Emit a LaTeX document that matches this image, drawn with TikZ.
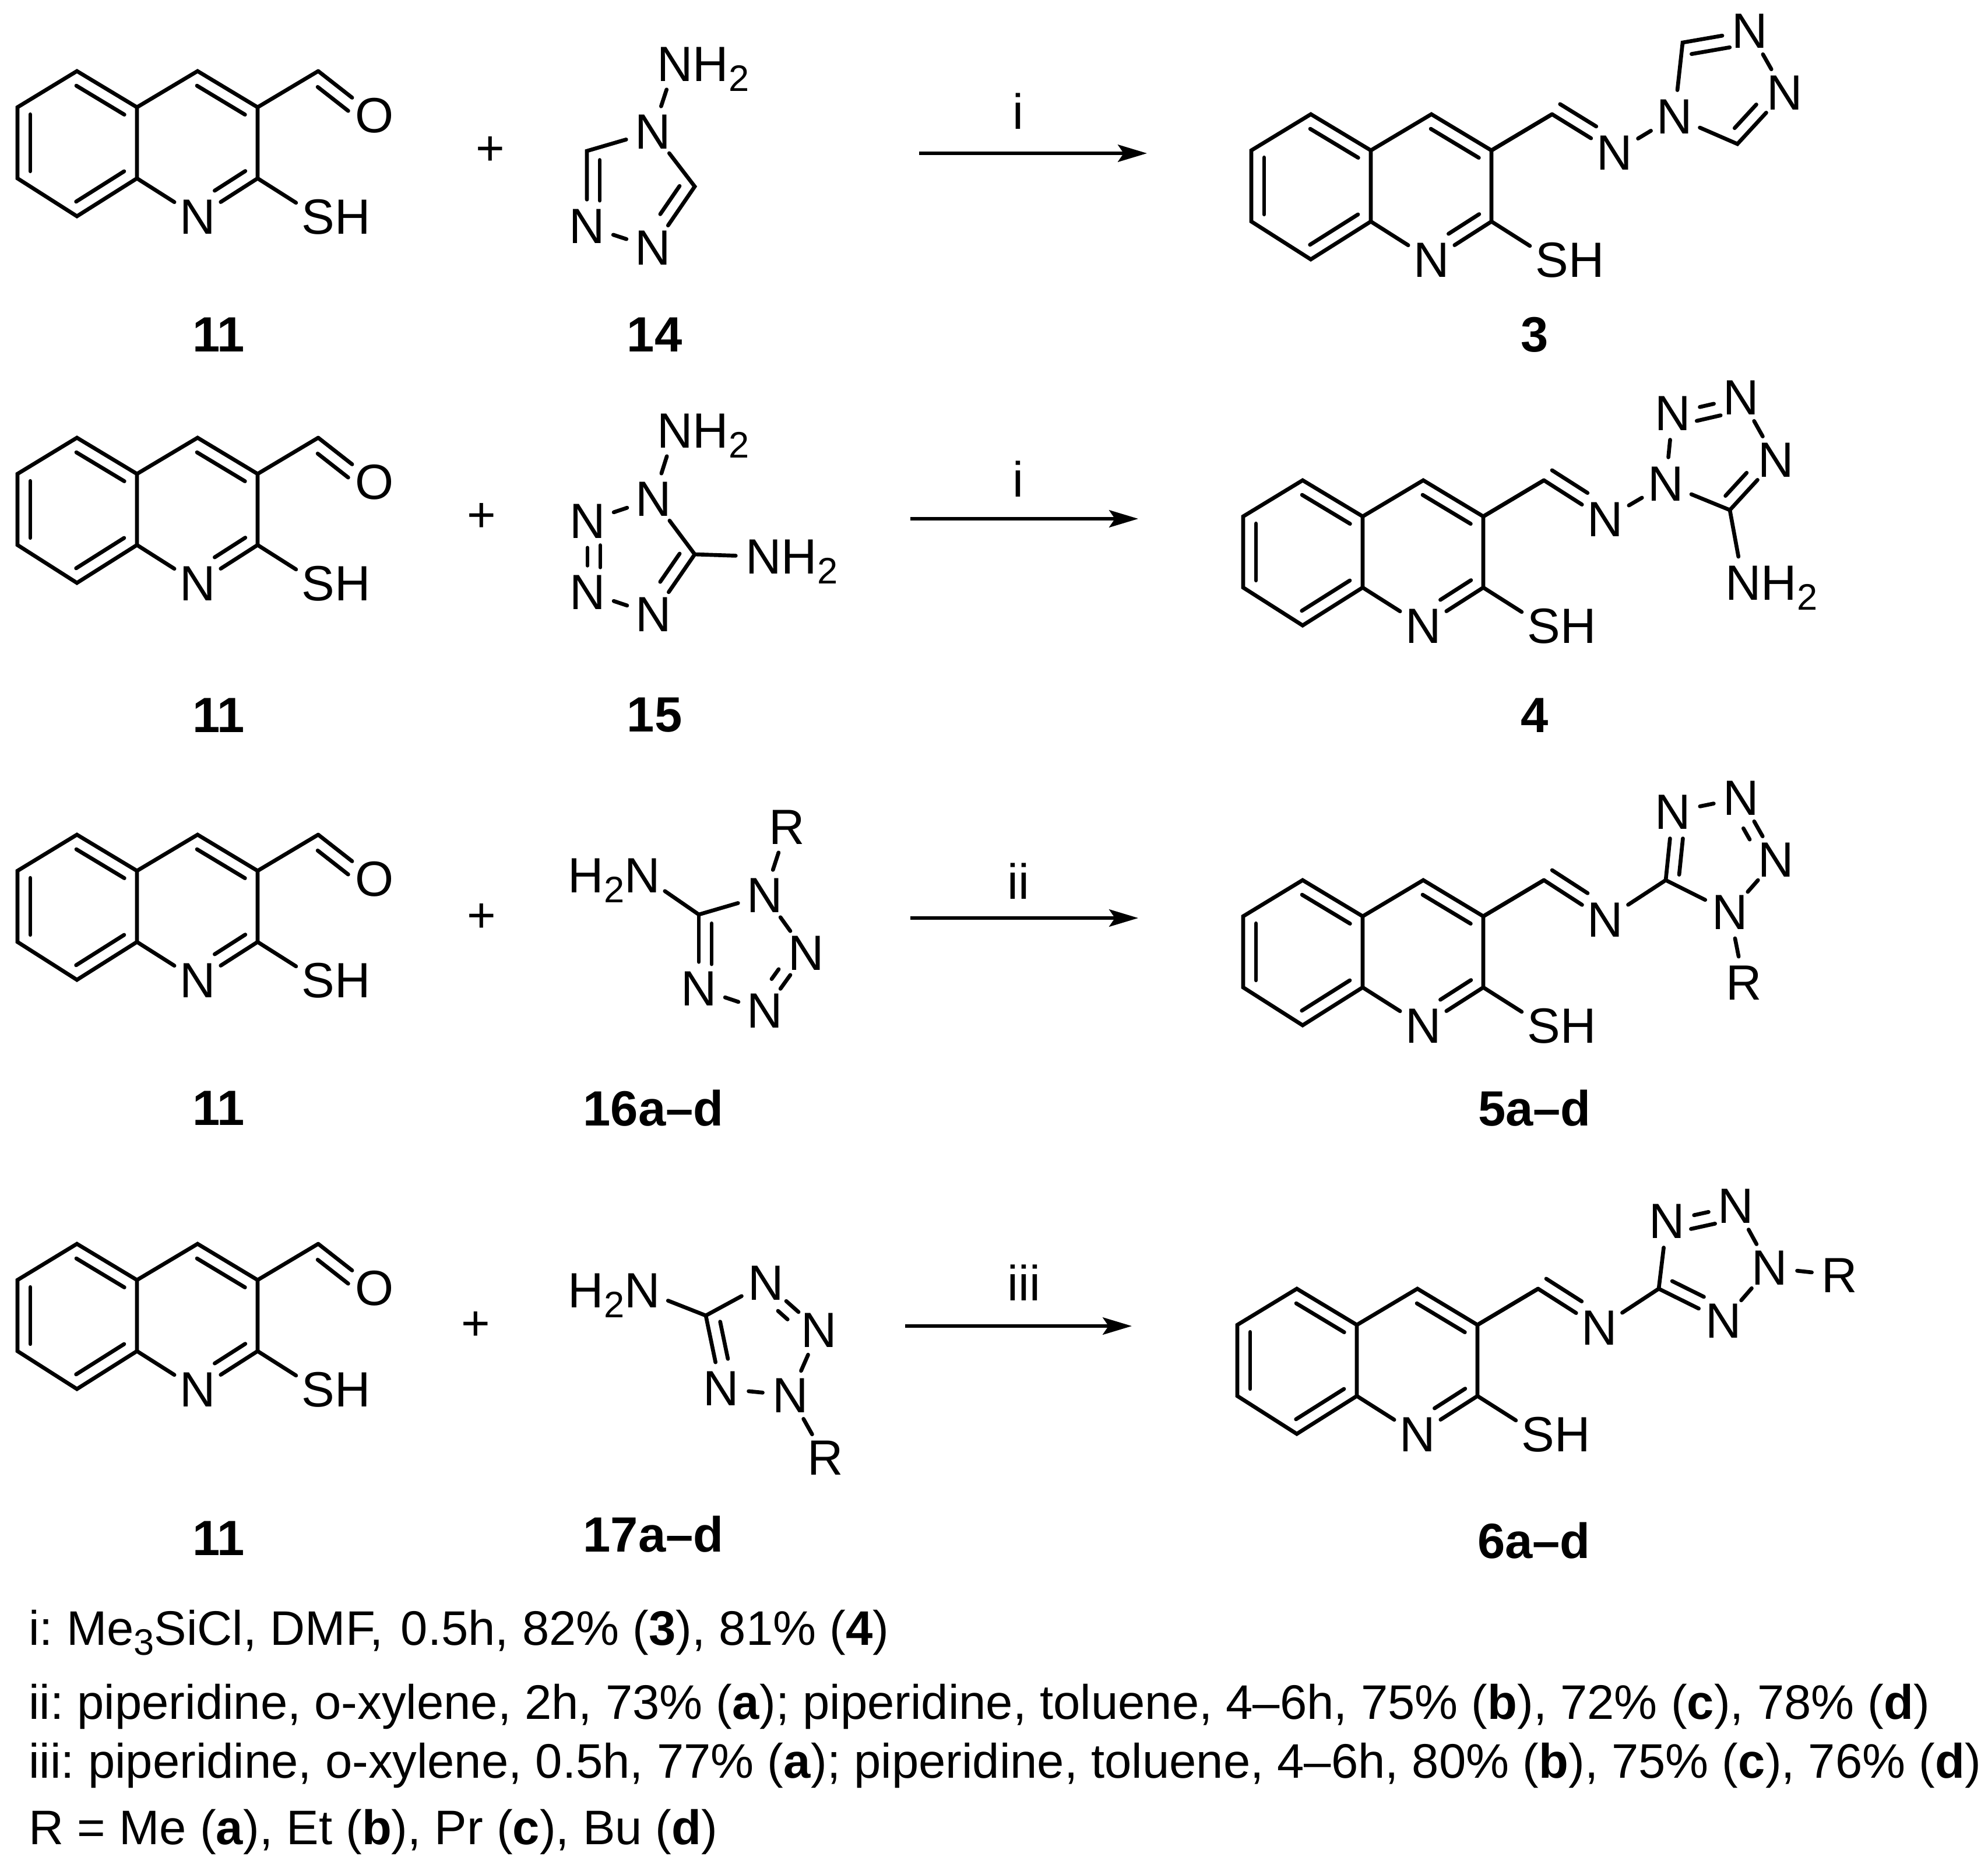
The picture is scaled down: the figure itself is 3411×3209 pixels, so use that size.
\documentclass[tikz,border=0pt]{standalone}
\usepackage{fontspec}
\setmainfont{Liberation Sans}
\usetikzlibrary{calc,arrows.meta,shapes.geometric}
\newcommand{\subtwo}[1]{\smash{\raisebox{-2.5pt}{\fontsize{9}{9}\selectfont #1}}}
\newcommand{\innerbond}[5]{\draw [bond] ($(#1)!#4!(#2)!0.11cm!#3:(#2)$) -- ($(#1)!#5!(#2)!0.11cm!#3:(#2)$) ;}
\frenchspacing
\begin{document}
\begin{tikzpicture}[x=0.005cm,y=-0.005cm,
        bond/.style={line width=0.95pt,line cap=round},
        atom/.style={ellipse,inner sep=0.3pt,font=\fontsize{12.1}{14}\selectfont},
        txt/.style={inner sep=0pt,font=\fontsize{12.1}{14}\selectfont},
        cpd/.style={inner sep=0pt,font=\fontsize{12.1}{14}\selectfont\bfseries},
        note/.style={inner sep=0pt,anchor=base west,font=\fontsize{11.85}{14}\selectfont},
        rxn/.style={line width=0.85pt,-{Stealth[length=7.1pt,width=4.2pt,inset=1.4pt]}}]
    \useasboundingbox (0,0) rectangle (3411,3209) ;
    \foreach \q/\ox/\oy in {r/30/184,s/30/813,t/30/1494,u/30/2196,v/2147/258,w/2133/886,x/2133/1572,y/2123/2273} {
        \begin{scope}[shift={(\ox,\oy)}]
            \coordinate (\q a) at (0,0) ;
            \coordinate (\q b) at (102,-62) ;
            \coordinate (\q c) at (205,0) ;
            \coordinate (\q d) at (205,122) ;
            \coordinate (\q e) at (102,187) ;
            \coordinate (\q f) at (0,122) ;
            \coordinate (\q g) at (309,-62) ;
            \coordinate (\q h) at (412,0) ;
            \coordinate (\q i) at (412,122) ;
            \coordinate (\q j) at (516,-62) ;
            \node [atom] (\q n) at (309,188) {N} ;
            \node [atom] (\q s) at (516,188) {S\rlap{H}} ;
            \draw [bond] (\q a) -- (\q b) -- (\q c) -- (\q d) -- (\q e) -- (\q f) -- cycle ;
            \draw [bond] (\q c) -- (\q g) -- (\q h) -- (\q i) -- (\q n) -- (\q d) ;
            \draw [bond] (\q h) -- (\q j) ;
            \draw [bond] (\q i) -- (\q s) ;
            \innerbond{\q a}{\q f}{90}{0.1}{0.9}
            \innerbond{\q b}{\q c}{-90}{0.1}{0.9}
            \innerbond{\q e}{\q d}{90}{0.1}{0.9}
            \innerbond{\q g}{\q h}{-90}{0.1}{0.9}
            \innerbond{\q i}{\q n}{-90}{0.09}{0.6}
        \end{scope}
    }
    \foreach \q/\ox/\oy in {r/30/184,s/30/813,t/30/1494,u/30/2196} {
        \node [atom] (\q o) at ($(\ox,\oy)+(613,14)$) {O} ;
        \draw [bond] (\q j) -- (\q o) ;
        \innerbond{\q j}{\q o}{-90}{0.13}{0.67}
    }

    \node [txt] (plusa) at (841,259) {+} ;
    \node [atom] (amA) at (1158,110) {N\rlap{H\subtwo{2}}} ;
    \node [atom] (nA) at (1120,226) {N} ;
    \coordinate (cA) at (1007,259) ;
    \node [atom] (nB) at (1007,388) {N} ;
    \node [atom] (nC) at (1120,425) {N} ;
    \coordinate (cB) at (1192,320) ;
    \draw [bond] (amA) -- (nA) ;
    \draw [bond] (nA) -- (cA) -- (nB) ;
    \draw [bond] (nB) -- (nC) ;
    \draw [bond] (nC) -- (cB) -- (nA) ;
    \innerbond{cA}{nB}{90}{0.12}{0.66}
    \innerbond{cB}{nC}{-90}{0.11}{0.57}

    \coordinate (arra) at (1577,263) ;
    \coordinate (arrb) at (1968,263) ;
    \draw [rxn] (arra) -- (arrb) ;
    \node [txt] (conda) at (1747,191) {i} ;

    \node [atom] (pan) at (2770,262) {N} ;
    \node [atom] (pbn) at (2873,200) {N} ;
    \coordinate (pca) at (2887,73) ;
    \node [atom] (pcn) at (3002,53) {N} ;
    \node [atom] (pdn) at (3062,159) {N} ;
    \coordinate (pcb) at (2981,247) ;
    \draw [bond] (vh) -- (vj) ;
    \draw [bond] (vj) -- (pan) ;
    \draw [bond] (pan) -- (pbn) ;
    \draw [bond] (pbn) -- (pca) -- (pcn) ;
    \draw [bond] (pcn) -- (pdn) ;
    \draw [bond] (pdn) -- (pcb) -- (pbn) ;
    \innerbond{vj}{pan}{90}{0.02}{0.6}
    \innerbond{pca}{pcn}{-90}{0.1}{0.67}
    \innerbond{pcb}{pdn}{90}{0.14}{0.6}

    \node [cpd] (cpda) at (375,574) {11} ;
    \node [cpd] (cpdb) at (1123,574) {14} ;
    \node [cpd] (cpdc) at (2633,574) {3} ;

    \node [txt] (plusb) at (826,888) {+} ;
    \node [atom] (amB) at (1158,739) {N\rlap{H\subtwo{2}}} ;
    \node [atom] (mA) at (1121,856) {N} ;
    \node [atom] (mB) at (1008,894) {N} ;
    \node [atom] (mC) at (1008,1016) {N} ;
    \node [atom] (mD) at (1121,1054) {N} ;
    \coordinate (mE) at (1192,951) ;
    \node [atom] (amC) at (1310,955) {N\rlap{H\subtwo{2}}} ;
    \draw [bond] (amB) -- (mA) ;
    \draw [bond] (mA) -- (mB) ;
    \draw [bond] (mB) -- (mC) ;
    \draw [bond] (mC) -- (mD) ;
    \draw [bond] (mD) -- (mE) -- (mA) ;
    \draw [bond] (mE) -- (amC) ;
    \innerbond{mB}{mC}{90}{0.34}{0.65}
    \innerbond{mE}{mD}{-90}{0.11}{0.58}

    \coordinate (arrc) at (1562,890) ;
    \coordinate (arrd) at (1953,890) ;
    \draw [rxn] (arrc) -- (arrd) ;
    \node [txt] (condb) at (1747,822) {i} ;

    \node [atom] (qan) at (2754,891) {N} ;
    \node [atom] (qbn) at (2858,830) {N} ;
    \node [atom] (qcn) at (2870,709) {N} ;
    \node [atom] (qdn) at (2987,682) {N} ;
    \node [atom] (qen) at (3047,789) {N} ;
    \coordinate (qc) at (2968,875) ;
    \node [atom] (amD) at (2991,1000) {N\rlap{H\subtwo{2}}} ;
    \draw [bond] (wh) -- (wj) ;
    \draw [bond] (wj) -- (qan) ;
    \draw [bond] (qan) -- (qbn) ;
    \draw [bond] (qbn) -- (qcn) ;
    \draw [bond] (qcn) -- (qdn) ;
    \draw [bond] (qdn) -- (qen) ;
    \draw [bond] (qen) -- (qc) -- (qbn) ;
    \draw [bond] (qc) -- (amD) ;
    \innerbond{wj}{qan}{90}{0.02}{0.6}
    \innerbond{qcn}{qdn}{-90}{0.31}{0.66}
    \innerbond{qc}{qen}{90}{0.11}{0.57}

    \node [cpd] (cpdd) at (375,1227) {11} ;
    \node [cpd] (cpde) at (1123,1227) {15} ;
    \node [cpd] (cpdf) at (2633,1227) {4} ;

    \node [txt] (plusc) at (826,1575) {+} ;
    \node [atom] (grR) at (1350,1419) {R} ;
    \node [atom] (amE) at (1102,1502) {\llap{H\subtwo{2}}N} ;
    \coordinate (kc) at (1199,1569) ;
    \node [atom] (kA) at (1312,1536) {N} ;
    \node [atom] (kB) at (1383,1635) {N} ;
    \node [atom] (kC) at (1312,1734) {N} ;
    \node [atom] (kD) at (1199,1696) {N} ;
    \draw [bond] (amE) -- (kc) -- (kA) ;
    \draw [bond] (kA) -- (grR) ;
    \draw [bond] (kA) -- (kB) ;
    \draw [bond] (kB) -- (kC) ;
    \draw [bond] (kC) -- (kD) ;
    \draw [bond] (kD) -- (kc) ;
    \innerbond{kB}{kC}{-90}{0.41}{0.58}
    \innerbond{kc}{kD}{90}{0.12}{0.67}

    \coordinate (arre) at (1562,1575) ;
    \coordinate (arrf) at (1953,1575) ;
    \draw [rxn] (arre) -- (arrf) ;
    \node [txt] (condc) at (1747,1512) {ii} ;

    \node [atom] (san) at (2754,1578) {N} ;
    \coordinate (sc) at (2858,1510) ;
    \node [atom] (sbn) at (2870,1393) {N} ;
    \node [atom] (scn) at (2987,1369) {N} ;
    \node [atom] (sdn) at (3047,1475) {N} ;
    \node [atom] (sen) at (2968,1565) {N} ;
    \node [atom] (grS) at (2992,1686) {R} ;
    \draw [bond] (xh) -- (xj) ;
    \draw [bond] (xj) -- (san) ;
    \draw [bond] (san) -- (sc) -- (sbn) ;
    \draw [bond] (sbn) -- (scn) ;
    \draw [bond] (scn) -- (sdn) ;
    \draw [bond] (sdn) -- (sen) ;
    \draw [bond] (sen) -- (sc) ;
    \draw [bond] (sen) -- (grS) ;
    \innerbond{xj}{san}{90}{0.02}{0.6}
    \innerbond{sc}{sbn}{-90}{0.1}{0.63}
    \innerbond{scn}{sdn}{-90}{0.39}{0.57}

    \node [cpd] (cpdg) at (375,1901) {11} ;
    \node [cpd] (cpdh) at (1121,1901) {16a--d} ;
    \node [cpd] (cpdi) at (2633,1901) {5a--d} ;

    \node [txt] (plusd) at (816,2275) {+} ;
    \node [atom] (amF) at (1102,2214) {\llap{H\subtwo{2}}N} ;
    \coordinate (lc) at (1211,2257) ;
    \node [atom] (lA) at (1314,2201) {N} ;
    \node [atom] (lB) at (1405,2282) {N} ;
    \node [atom] (lC) at (1356,2394) {N} ;
    \node [atom] (lD) at (1237,2382) {N} ;
    \node [atom] (grT) at (1416,2501) {R} ;
    \draw [bond] (amF) -- (lc) -- (lA) ;
    \draw [bond] (lA) -- (lB) ;
    \draw [bond] (lB) -- (lC) ;
    \draw [bond] (lC) -- (lD) ;
    \draw [bond] (lC) -- (grT) ;
    \draw [bond] (lD) -- (lc) ;
    \innerbond{lA}{lB}{-90}{0.39}{0.57}
    \innerbond{lc}{lD}{90}{0.12}{0.63}

    \coordinate (arrg) at (1553,2275) ;
    \coordinate (arrh) at (1942,2275) ;
    \draw [rxn] (arrg) -- (arrh) ;
    \node [txt] (condd) at (1757,2201) {iii} ;

    \node [atom] (tan) at (2744,2278) {N} ;
    \coordinate (tc) at (2846,2211) ;
    \node [atom] (tbn) at (2860,2095) {N} ;
    \node [atom] (tcn) at (2978,2069) {N} ;
    \node [atom] (tdn) at (3036,2175) {N} ;
    \node [atom] (ten) at (2957,2266) {N} ;
    \node [atom] (grU) at (3156,2188) {R} ;
    \draw [bond] (yh) -- (yj) ;
    \draw [bond] (yj) -- (tan) ;
    \draw [bond] (tan) -- (tc) -- (tbn) ;
    \draw [bond] (tbn) -- (tcn) ;
    \draw [bond] (tcn) -- (tdn) ;
    \draw [bond] (tdn) -- (ten) ;
    \draw [bond] (ten) -- (tc) ;
    \draw [bond] (tdn) -- (grU) ;
    \innerbond{yj}{tan}{90}{0.02}{0.6}
    \innerbond{tbn}{tcn}{-90}{0.31}{0.66}
    \innerbond{tc}{ten}{90}{0.12}{0.61}

    \node [cpd] (cpdj) at (375,2639) {11} ;
    \node [cpd] (cpdk) at (1121,2632) {17a--d} ;
    \node [cpd] (cpdl) at (2632,2643) {6a--d} ;

    \node [note] (notea) at (48,2822) {i: Me\subtwo{3}SiCl, DMF,\ \hspace{1pt}0.5h, 82\% (\textbf{3}), 81\% (\textbf{4})} ;
    \node [note] (noteb) at (48,2949) {ii: piperidine, o-xylene, 2h, 73\% (\textbf{a}); piperidine, toluene, 4--6h, 75\% (\textbf{b}), 72\% (\textbf{c}), 78\% (\textbf{d})} ;
    \node [note] (notec) at (48,3050) {iii: piperidine, o-xylene, 0.5h, 77\% (\textbf{a}); piperidine, toluene, 4--6h, 80\% (\textbf{b}), 75\% (\textbf{c}), 76\% (\textbf{d})} ;
    \node [note] (noted) at (48,3164) {R = Me (\textbf{a}), Et (\textbf{b}), Pr (\textbf{c}), Bu (\textbf{d})} ;
\end{tikzpicture}
\end{document}
